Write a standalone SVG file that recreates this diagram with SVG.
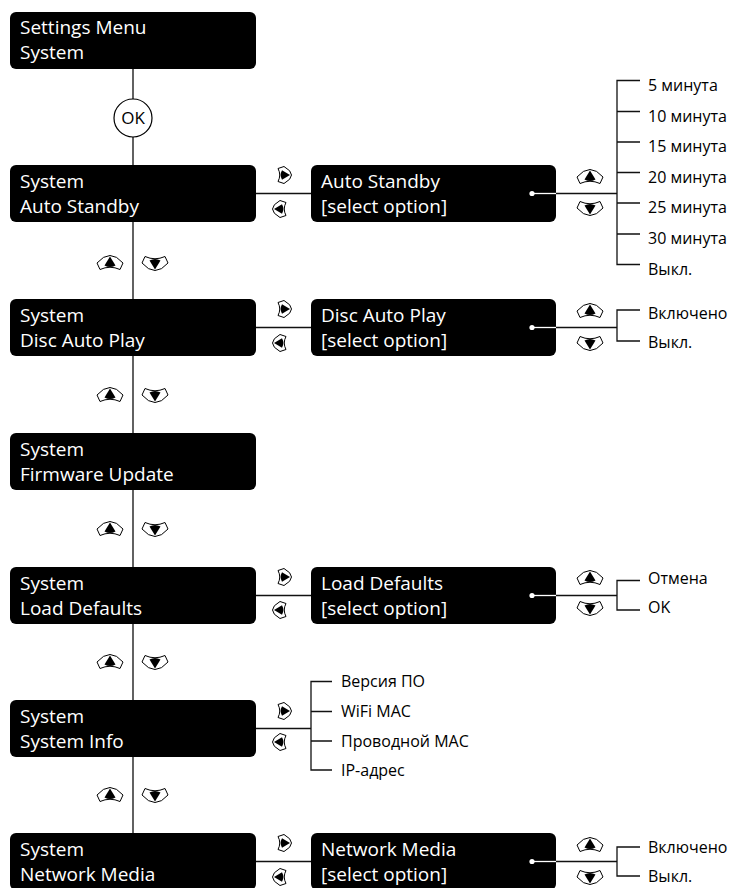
<svg xmlns="http://www.w3.org/2000/svg" width="731" height="888" viewBox="0 0 731 888">
<style>
.box{fill:#000}
.bt{font-family:"Open Sans","Noto Sans","DejaVu Sans",sans-serif;font-size:19px;fill:#fff}
.ot{font-family:"Open Sans","Noto Sans","DejaVu Sans",sans-serif;font-size:16px;fill:#000}
.main{stroke:#3a3a3a;stroke-width:1.6;fill:none}
.ln{stroke:#111;stroke-width:1.3;fill:none}
.wl{stroke:#fff;stroke-width:1.3;fill:none}
.ico{fill:#fff;stroke:#000;stroke-width:1}
</style>
<defs>
<g id="up">
<path class="ico" d="M-13,0 Q0,-15 13,0 L10,6.5 Q0,2 -10,6.5 Z"/>
<path d="M0,-6.5 L5.5,2.5 Q0,5.5 -5.5,2.5 Z" fill="#000"/>
</g>
<g id="rt">
<path class="ico" d="M0,-8.5 Q15,0 0,8.5 L-6,6.5 Q-2.5,0 -6,-6.5 Z"/>
<path d="M6,0 L-2,-4.8 Q-4.8,0 -2,4.8 Z" fill="#000"/>
</g>
</defs>

<g id="connectors">
<line class="main" x1="133" y1="69" x2="133" y2="888"/>
<line class="ln" x1="256" y1="193.5" x2="311" y2="193.5"/>
<line class="ln" x1="256" y1="327.5" x2="311" y2="327.5"/>
<line class="ln" x1="256" y1="595.5" x2="311" y2="595.5"/>
<line class="ln" x1="256" y1="728.5" x2="311" y2="728.5"/>
<line class="ln" x1="256" y1="861.5" x2="311" y2="861.5"/>
<line class="ln" x1="556" y1="193.5" x2="617" y2="193.5"/>
<line class="ln" x1="556" y1="327.5" x2="617" y2="327.5"/>
<line class="ln" x1="556" y1="595.5" x2="617" y2="595.5"/>
<line class="ln" x1="556" y1="861.5" x2="617" y2="861.5"/>
<path class="ln" d="M640,80.5 H617 V264.5 H640 M617,111.5 H640 M617,142 H640 M617,172.5 H640 M617,203 H640 M617,234 H640"/>
<path class="ln" d="M640,310 H617 V341 H640"/>
<path class="ln" d="M640,580.5 H617 V610 H640"/>
<path class="ln" d="M332,681.5 H311 V770 H332 M311,711.5 H332 M311,741 H332"/>
<path class="ln" d="M640,847 H617 V876 H640"/>
</g>

<g id="node-settings">
<rect class="box" x="10" y="12" width="246" height="57" rx="6"/>
<text class="bt" x="20" y="34">Settings Menu</text>
<text class="bt" x="20" y="59">System</text>
</g>

<g id="ok">
<circle cx="133" cy="118" r="19" fill="#fff" stroke="#000" stroke-width="1.2"/>
<text x="133" y="124" text-anchor="middle" font-family="Open Sans, sans-serif" font-size="17" fill="#000">OK</text>
</g>

<g id="node-auto-standby">
<rect class="box" x="10" y="165" width="246" height="57" rx="6"/>
<text class="bt" x="20" y="187.5">System</text>
<text class="bt" x="20" y="212.5">Auto Standby</text>
</g>
<g id="node-auto-standby-sel">
<rect class="box" x="311" y="165" width="245" height="57" rx="6"/>
<text class="bt" x="321" y="187.5">Auto Standby</text>
<text class="bt" x="321" y="212.5">[select option]</text>
<line class="wl" x1="532" y1="193.5" x2="556" y2="193.5"/>
<circle cx="532" cy="193.5" r="2.6" fill="#fff"/>
</g>

<g id="node-disc">
<rect class="box" x="10" y="299" width="246" height="57" rx="6"/>
<text class="bt" x="20" y="321.5">System</text>
<text class="bt" x="20" y="346.5">Disc Auto Play</text>
</g>
<g id="node-disc-sel">
<rect class="box" x="311" y="299" width="245" height="57" rx="6"/>
<text class="bt" x="321" y="321.5">Disc Auto Play</text>
<text class="bt" x="321" y="346.5">[select option]</text>
<line class="wl" x1="532" y1="327.5" x2="556" y2="327.5"/>
<circle cx="532" cy="327.5" r="2.6" fill="#fff"/>
</g>

<g id="node-firmware">
<rect class="box" x="10" y="433" width="246" height="57" rx="6"/>
<text class="bt" x="20" y="455.5">System</text>
<text class="bt" x="20" y="480.5">Firmware Update</text>
</g>

<g id="node-load">
<rect class="box" x="10" y="567" width="246" height="57" rx="6"/>
<text class="bt" x="20" y="589.5">System</text>
<text class="bt" x="20" y="614.5">Load Defaults</text>
</g>
<g id="node-load-sel">
<rect class="box" x="311" y="567" width="245" height="57" rx="6"/>
<text class="bt" x="321" y="589.5">Load Defaults</text>
<text class="bt" x="321" y="614.5">[select option]</text>
<line class="wl" x1="532" y1="595.5" x2="556" y2="595.5"/>
<circle cx="532" cy="595.5" r="2.6" fill="#fff"/>
</g>

<g id="node-info">
<rect class="box" x="10" y="700" width="246" height="57" rx="6"/>
<text class="bt" x="20" y="722.5">System</text>
<text class="bt" x="20" y="747.5">System Info</text>
</g>

<g id="node-network">
<rect class="box" x="10" y="833" width="246" height="57" rx="6"/>
<text class="bt" x="20" y="855.5">System</text>
<text class="bt" x="20" y="880.5">Network Media</text>
</g>
<g id="node-network-sel">
<rect class="box" x="311" y="833" width="245" height="57" rx="6"/>
<text class="bt" x="321" y="855.5">Network Media</text>
<text class="bt" x="321" y="880.5">[select option]</text>
<line class="wl" x1="532" y1="861.5" x2="556" y2="861.5"/>
<circle cx="532" cy="861.5" r="2.6" fill="#fff"/>
</g>

<g id="options">
<text class="ot" x="648" y="91">5 минута</text>
<text class="ot" x="648" y="121.5">10 минута</text>
<text class="ot" x="648" y="152">15 минута</text>
<text class="ot" x="648" y="182.5">20 минута</text>
<text class="ot" x="648" y="213">25 минута</text>
<text class="ot" x="648" y="244">30 минута</text>
<text class="ot" x="648" y="274.5">Выкл.</text>
<text class="ot" x="648" y="319">Включено</text>
<text class="ot" x="648" y="348">Выкл.</text>
<text class="ot" x="648" y="584">Отмена</text>
<text class="ot" x="648" y="613">OK</text>
<text class="ot" x="341" y="687">Версия ПО</text>
<text class="ot" x="341" y="717">WiFi MAC</text>
<text class="ot" x="341" y="746.5">Проводной MAC</text>
<text class="ot" x="341" y="776">IP-адрес</text>
<text class="ot" x="648" y="853">Включено</text>
<text class="ot" x="648" y="882">Выкл.</text>
</g>

<g id="icons">
<use href="#up" transform="translate(110,263)"/>
<use href="#up" transform="translate(155,263) scale(1,-1)"/>
<use href="#up" transform="translate(110,395)"/>
<use href="#up" transform="translate(155,395) scale(1,-1)"/>
<use href="#up" transform="translate(110,529)"/>
<use href="#up" transform="translate(155,529) scale(1,-1)"/>
<use href="#up" transform="translate(110,662)"/>
<use href="#up" transform="translate(155,662) scale(1,-1)"/>
<use href="#up" transform="translate(110,795)"/>
<use href="#up" transform="translate(155,795) scale(1,-1)"/>
<use href="#rt" transform="translate(284,175)"/>
<use href="#rt" transform="translate(280,209) scale(-1,1)"/>
<use href="#rt" transform="translate(284,309)"/>
<use href="#rt" transform="translate(280,343) scale(-1,1)"/>
<use href="#rt" transform="translate(284,577)"/>
<use href="#rt" transform="translate(280,610) scale(-1,1)"/>
<use href="#rt" transform="translate(284,711)"/>
<use href="#rt" transform="translate(280,742) scale(-1,1)"/>
<use href="#rt" transform="translate(284,843)"/>
<use href="#rt" transform="translate(280,877) scale(-1,1)"/>
<use href="#up" transform="translate(590,177)"/>
<use href="#up" transform="translate(590,208) scale(1,-1)"/>
<use href="#up" transform="translate(590,311)"/>
<use href="#up" transform="translate(590,343) scale(1,-1)"/>
<use href="#up" transform="translate(590,578)"/>
<use href="#up" transform="translate(590,608) scale(1,-1)"/>
<use href="#up" transform="translate(590,845)"/>
<use href="#up" transform="translate(590,877) scale(1,-1)"/>
</g>
</svg>
